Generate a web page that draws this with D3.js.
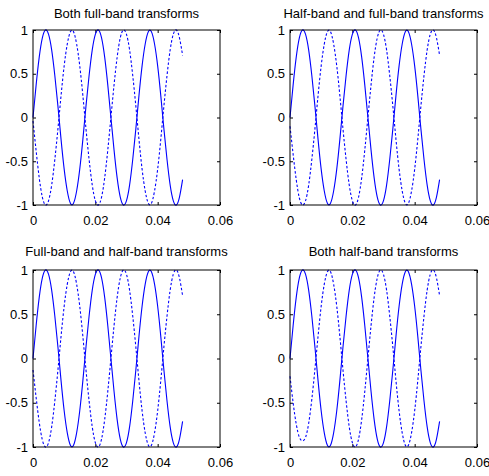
<!DOCTYPE html>
<html>
<head>
<meta charset="utf-8">
<script src="https://cdn.jsdelivr.net/npm/d3@7"></script>
<style>
	body { margin: 0; background: #fff; }
	svg { display: block; font-family: "Liberation Sans", Arial, sans-serif; }
	.axis path { display: none; }
	.axis line { stroke: #000; }
	.axis text { fill: #000; font-size: 13px; }
	.title { font-size: 13px; fill: #000; }
</style>
</head>
<body>
<svg id="chart" width="489" height="476"></svg>
<script>
// sample times (s)
var times = [0, 0.001, 0.002, 0.003, 0.004, 0.005, 0.006, 0.007, 0.008, 0.009,
	0.010, 0.011, 0.012, 0.013, 0.014, 0.015, 0.016, 0.017, 0.018, 0.019,
	0.020, 0.021, 0.022, 0.023, 0.024, 0.025, 0.026, 0.027, 0.028, 0.029,
	0.030, 0.031, 0.032, 0.033, 0.034, 0.035, 0.036, 0.037, 0.038, 0.039,
	0.040, 0.041, 0.042, 0.043, 0.044, 0.045, 0.046, 0.047, 0.048];

// solid curve, same in every panel
var solidValues = [0, 0.37, 0.69, 0.91, 1.0, 0.95, 0.77, 0.48, 0.13, -0.25,
	-0.59, -0.84, -0.98, -0.98, -0.84, -0.59, -0.25, 0.13, 0.48, 0.77,
	0.95, 1.0, 0.91, 0.69, 0.37, 0, -0.37, -0.69, -0.91, -1.0,
	-0.95, -0.77, -0.48, -0.13, 0.25, 0.59, 0.84, 0.98, 0.98, 0.84,
	0.59, 0.25, -0.13, -0.48, -0.77, -0.95, -1.0, -0.91, -0.71];

// dotted curves, one per panel
var dottedFullFull = [-0.04, -0.38, -0.69, -0.91, -1.0, -0.95, -0.77, -0.48, -0.13, 0.25,
	0.59, 0.84, 0.98, 0.98, 0.84, 0.59, 0.25, -0.13, -0.48, -0.77,
	-0.95, -1.0, -0.91, -0.69, -0.37, 0, 0.37, 0.69, 0.91, 1.0,
	0.95, 0.77, 0.48, 0.13, -0.25, -0.59, -0.84, -0.98, -0.98, -0.84,
	-0.59, -0.25, 0.13, 0.48, 0.77, 0.95, 1.0, 0.91, 0.71];
var dottedHalfFull = [-0.1, -0.42, -0.71, -0.92, -1.0, -0.95, -0.77, -0.48, -0.13, 0.25,
	0.59, 0.84, 0.98, 0.98, 0.84, 0.59, 0.25, -0.13, -0.48, -0.77,
	-0.95, -1.0, -0.91, -0.69, -0.37, 0, 0.37, 0.69, 0.91, 1.0,
	0.95, 0.77, 0.48, 0.13, -0.25, -0.59, -0.84, -0.98, -0.98, -0.84,
	-0.59, -0.25, 0.13, 0.48, 0.77, 0.95, 1.0, 0.91, 0.71];
var dottedFullHalf = [-0.13, -0.44, -0.72, -0.92, -1.0, -0.95, -0.77, -0.48, -0.13, 0.25,
	0.59, 0.84, 0.98, 0.98, 0.84, 0.59, 0.25, -0.13, -0.48, -0.77,
	-0.95, -1.0, -0.91, -0.69, -0.37, 0, 0.37, 0.69, 0.91, 1.0,
	0.95, 0.77, 0.48, 0.13, -0.25, -0.59, -0.84, -0.98, -0.98, -0.84,
	-0.59, -0.25, 0.13, 0.48, 0.77, 0.95, 1.0, 0.91, 0.71];
var dottedHalfHalf = [-0.2, -0.5, -0.74, -0.89, -0.93, -0.89, -0.73, -0.46, -0.12, 0.25,
	0.59, 0.84, 0.98, 0.98, 0.84, 0.59, 0.25, -0.13, -0.48, -0.77,
	-0.95, -1.0, -0.91, -0.69, -0.37, 0, 0.37, 0.69, 0.91, 1.0,
	0.95, 0.77, 0.48, 0.13, -0.25, -0.59, -0.84, -0.98, -0.98, -0.84,
	-0.59, -0.25, 0.13, 0.48, 0.77, 0.95, 1.0, 0.91, 0.71];

var titles = ["Both full-band transforms", "Half-band and full-band transforms",
	"Full-band and half-band transforms", "Both half-band transforms"];
var dottedSeries = [dottedFullFull, dottedHalfFull, dottedFullHalf, dottedHalfHalf];

var xTicks = [0, 0.02, 0.04, 0.06];
var yTicks = [-1, -0.5, 0, 0.5, 1];

var svg = d3.select("#chart");

// panel boxes: left, top, width, height, title baseline offset
var panels = [
	{ left: 33, top: 30, width: 187, height: 175, titleY: -12 },
	{ left: 290, top: 30, width: 187, height: 175, titleY: -12 },
	{ left: 33, top: 270, width: 187, height: 177, titleY: -14 },
	{ left: 290, top: 270, width: 187, height: 177, titleY: -14 }
];

var fmt = function(d) { return String(d); };

panels.forEach(function(p, i) {
	var g = svg.append("g").attr("transform", "translate(" + p.left + "," + p.top + ")");
	var x = d3.scaleLinear().domain([0, 0.06]).range([0, p.width]);
	var y = d3.scaleLinear().domain([-1, 1]).range([p.height, 0]);

	// inward ticks on all four sides, labels only on bottom and left
	g.append("g").attr("class", "axis")
		.attr("transform", "translate(0," + p.height + ")")
		.call(d3.axisBottom(x).tickValues(xTicks).tickSize(-3).tickPadding(11).tickFormat(fmt));
	g.append("g").attr("class", "axis")
		.call(d3.axisTop(x).tickValues(xTicks).tickSize(-3).tickFormat(""));
	g.append("g").attr("class", "axis")
		.call(d3.axisLeft(y).tickValues(yTicks).tickSize(-3).tickPadding(5).tickFormat(fmt));
	g.append("g").attr("class", "axis")
		.attr("transform", "translate(" + p.width + ",0)")
		.call(d3.axisRight(y).tickValues(yTicks).tickSize(-3).tickFormat(""));

	var line = d3.line()
		.x(function(d, k) { return x(times[k]); })
		.y(function(d) { return y(d); })
		.curve(d3.curveNatural);

	g.append("path")
		.attr("d", line(solidValues))
		.attr("fill", "none")
		.attr("stroke", "#0000ff")
		.attr("stroke-width", 1.1);

	g.append("path")
		.attr("d", line(dottedSeries[i]))
		.attr("fill", "none")
		.attr("stroke", "#0000ff")
		.attr("stroke-width", 1.1)
		.attr("stroke-dasharray", "2.5,2");

	g.append("rect")
		.attr("x", 0).attr("y", 0)
		.attr("width", p.width).attr("height", p.height)
		.attr("fill", "none")
		.attr("stroke", "#000")
		.attr("stroke-width", 1);

	g.append("text")
		.attr("class", "title")
		.attr("x", p.width / 2)
		.attr("y", p.titleY)
		.attr("text-anchor", "middle")
		.text(titles[i]);
});
</script>
</body>
</html>
